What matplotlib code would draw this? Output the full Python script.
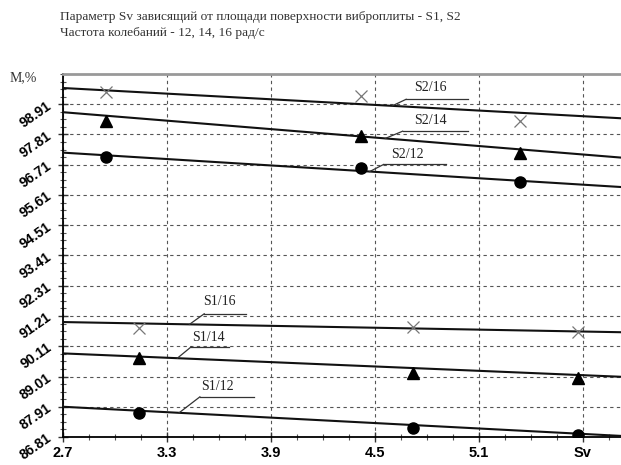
import matplotlib

matplotlib.use("Agg")
import matplotlib.pyplot as plt  # noqa: E402
from matplotlib.ticker import MultipleLocator, FixedLocator  # noqa: E402

# data
title_lines = [
    "Параметр Sv зависящий от площади поверхности виброплиты - S1, S2",
    "Частота колебаний - 12, 14, 16 рад/с",
]
x_ticks = [2.7, 3.3, 3.9, 4.5, 5.1, 5.7]
x_ticklabels = ["2.7", "3.3", "3.9", "4.5", "5.1", "Sv"]
y_ticks = [86.81, 87.91, 89.01, 90.11, 91.21, 92.31, 93.41, 94.51, 95.61, 96.71, 97.81, 98.91]

line_x = [2.7, 5.92]
s2_16_line = [99.50, 98.40]
s2_14_line = [98.62, 96.97]
s2_12_line = [97.15, 95.90]
s1_16_line = [90.99, 90.62]
s1_14_line = [89.85, 89.00]
s1_12_line = [87.91, 86.85]

s2_pts_x = [2.95, 4.42, 5.335]
s2_16_pts = [99.35, 99.20, 98.29]
s2_14_pts = [98.29, 97.74, 97.12]
s2_12_pts = [96.98, 96.58, 96.07]

s1_pts_x = [3.14, 4.72, 5.67]
s1_16_pts = [90.78, 90.82, 90.64]
s1_14_pts = [89.69, 89.14, 88.96]
s1_12_pts = [87.68, 87.14, 86.88]

series = [
    ("S2/16", s2_16_line, s2_pts_x, s2_16_pts, "x"),
    ("S2/14", s2_14_line, s2_pts_x, s2_14_pts, "^"),
    ("S2/12", s2_12_line, s2_pts_x, s2_12_pts, "o"),
    ("S1/16", s1_16_line, s1_pts_x, s1_16_pts, "x"),
    ("S1/14", s1_14_line, s1_pts_x, s1_14_pts, "^"),
    ("S1/12", s1_12_line, s1_pts_x, s1_12_pts, "o"),
]

# label placement: text (x, y), underline x-range and y, leader start x on the line
labels = {
    "S2/16": ((4.82, 99.53), (4.68, 5.04), 99.09, 4.60),
    "S2/14": ((4.82, 98.33), (4.66, 5.04), 97.93, 4.56),
    "S2/12": ((4.69, 97.09), (4.55, 4.91), 96.72, 4.47),
    "S1/16": ((3.60, 91.73), (3.515, 3.756), 91.29, 3.43),
    "S1/14": ((3.54, 90.42), (3.44, 3.66), 90.09, 3.36),
    "S1/12": ((3.59, 88.63), (3.49, 3.80), 88.27, 3.37),
}

serif = "Liberation Serif"

fig = plt.figure(figsize=(6.21, 4.65), dpi=100)
ax = fig.add_axes([0.1014, 0.0602, 0.8986, 0.7807])

for name, ly, px, py, mk in series:
    ax.plot(line_x, ly, color="#111111", lw=1.5, zorder=3)
    if mk == "x":
        ax.plot(px, py, ls="none", marker="x", ms=8, mew=0.9, color="#777777", zorder=4)
    else:
        ax.plot(px, py, ls="none", marker=mk, ms=8, color="black", zorder=4)

    (tx, ty), (u0, u1), uy, lx = labels[name]
    slope = (ly[1] - ly[0]) / (line_x[1] - line_x[0])
    ly_at = ly[0] + slope * (lx - line_x[0])
    ax.text(tx, ty, name, family=serif, fontsize=10, color="#222222",
            ha="center", va="center", zorder=5)
    ax.plot([u0, u1], [uy, uy], color="#333333", lw=0.9, zorder=5)
    ax.plot([lx, u0], [ly_at, uy], color="#333333", lw=0.9, zorder=5)

ax.set_xlim(2.7, 5.92)
ax.set_ylim(86.81, 100.01)
ax.xaxis.set_major_locator(FixedLocator(x_ticks))
ax.xaxis.set_minor_locator(MultipleLocator(0.15))
ax.yaxis.set_major_locator(FixedLocator(y_ticks))
ax.yaxis.set_minor_locator(FixedLocator([y_ticks[0] + i * 0.275 for i in range(49)]))
ax.set_xticklabels(x_ticklabels, fontweight="bold", fontsize=10.5, family="Liberation Sans")
ax.set_yticklabels([f"{v:.2f}" for v in y_ticks], rotation=35, fontweight="bold",
                   fontsize=10, family="Liberation Sans", ha="right", va="center",
                   rotation_mode="anchor")
ax.tick_params(axis="both", which="major", direction="inout", length=7, width=1, color="#333333")
ax.tick_params(axis="both", which="minor", direction="inout", length=5, width=0.8, color="#555555")
ax.tick_params(axis="y", which="major", pad=6)
ax.tick_params(axis="x", which="major", pad=3)

ax.grid(True, which="major", color="#555555", lw=0.8, ls=(0, (3, 3)))
ax.spines["right"].set_visible(False)
ax.spines["top"].set_color("#999999")
ax.spines["top"].set_linewidth(2)
ax.spines["left"].set_linewidth(1.3)
ax.spines["bottom"].set_linewidth(1.3)

ax.text(-0.095, 0.99, "M,%", transform=ax.transAxes, family=serif, fontsize=10,
        color="#333333", ha="left", va="center")
fig.text(60 / 621, 1 - 17 / 465, title_lines[0], family=serif, fontsize=9.6,
         color="#333333", ha="left", va="center")
fig.text(60 / 621, 1 - 33 / 465, title_lines[1], family=serif, fontsize=9.6,
         color="#333333", ha="left", va="center")

fig.savefig("out.png", dpi=100)
